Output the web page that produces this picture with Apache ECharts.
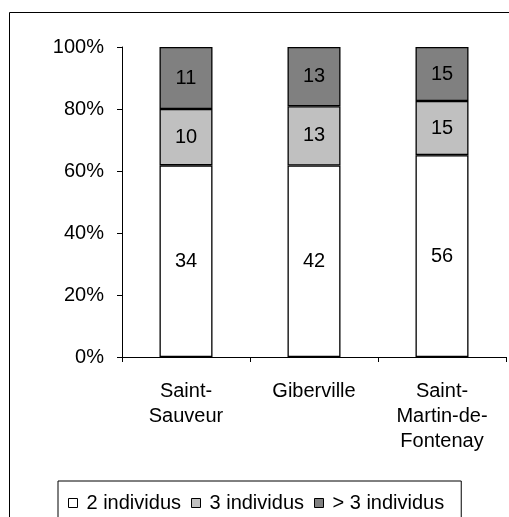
<!DOCTYPE html>
<html>
<head>
<meta charset="utf-8">
<script src="https://cdn.jsdelivr.net/npm/echarts@6/dist/echarts.min.js"></script>
<style>
html,body{margin:0;padding:0;background:#fff;}
#main{width:509px;height:517px;}
</style>
</head>
<body>
<div id="main"></div>
<script>
var categories = ['Saint-\nSauveur', 'Giberville', 'Saint-\nMartin-de-\nFontenay'];
var seriesNames = ['2 individus', '3 individus', '> 3 individus'];
var twoIndividus = [34, 42, 56];
var threeIndividus = [10, 13, 15];
var moreIndividus = [11, 13, 15];
var seriesColors = ['#ffffff', '#c0c0c0', '#808080'];
var yTickLabels = ['0%', '20%', '40%', '60%', '80%', '100%'];

var counts = [twoIndividus, threeIndividus, moreIndividus];
var totals = categories.map(function (c, i) {
  return twoIndividus[i] + threeIndividus[i] + moreIndividus[i];
});

var FONT = 'Liberation Sans, Arial, sans-serif';

var series = counts.map(function (arr, s) {
  return {
    name: seriesNames[s],
    type: 'bar',
    stack: 'total',
    barWidth: 53,
    data: arr.map(function (v, i) { return { value: v / totals[i] * 100, raw: v }; }),
    itemStyle: { color: seriesColors[s], borderColor: '#000', borderWidth: 1.3 },
    label: {
      show: true,
      position: 'inside',
      color: '#000',
      fontFamily: FONT,
      fontSize: 20,
      formatter: function (p) { return p.data.raw; }
    }
  };
});

var chart = echarts.init(document.getElementById('main'), null, { renderer: 'canvas' });
chart.setOption({
  animation: false,
  backgroundColor: '#fff',
  grid: { left: 122, right: 3, top: 47, bottom: 160, containLabel: false },
  legend: {
    data: seriesNames,
    left: 58,
    top: 481,
    padding: [12, 17, 30, 10],
    borderColor: '#000',
    borderWidth: 1,
    itemWidth: 9,
    itemHeight: 9,
    itemGap: 10,
    icon: 'rect',
    itemStyle: { borderColor: '#000', borderWidth: 1 },
    textStyle: { fontFamily: FONT, fontSize: 20, color: '#000', padding: [0, 0, 0, 4] }
  },
  xAxis: {
    type: 'category',
    data: categories,
    axisLine: { lineStyle: { color: '#000', width: 1 } },
    axisTick: { show: true, length: 5, lineStyle: { color: '#000' } },
    axisLabel: { fontFamily: FONT, fontSize: 20, color: '#000', lineHeight: 25, margin: 22, interval: 0 }
  },
  yAxis: {
    type: 'value',
    min: 0,
    max: 100,
    interval: 20,
    axisLine: { show: true, lineStyle: { color: '#000', width: 1 } },
    axisTick: { show: true, length: 5, lineStyle: { color: '#000' } },
    splitLine: { show: false },
    axisLabel: {
      fontFamily: FONT, fontSize: 20, color: '#000', margin: 18,
      formatter: function (v) { return yTickLabels[Math.round(v / 20)]; }
    }
  },
  graphic: [{
    type: 'rect',
    shape: { x: 9.5, y: 12.5, width: 600, height: 600 },
    style: { fill: 'none', stroke: '#000', lineWidth: 1 },
    silent: true,
    z: -1
  }],
  series: series
});
</script>
</body>
</html>
